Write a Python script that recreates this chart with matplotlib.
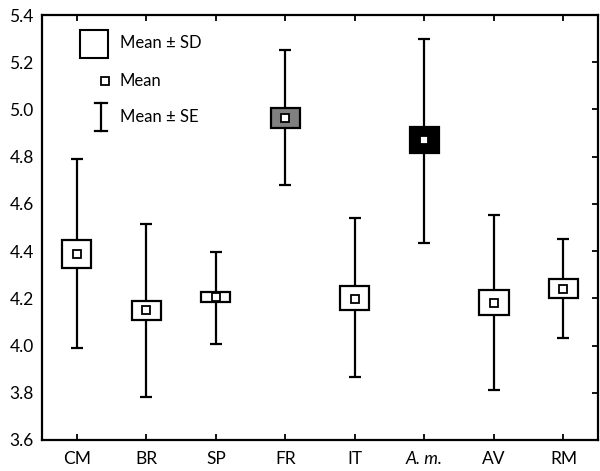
import matplotlib
matplotlib.use("Agg")
import matplotlib.pyplot as plt

plt.rcParams['font.family'] = ['Lato', 'DejaVu Sans']

groups = ['CM', 'BR', 'SP', 'FR', 'IT', 'A. m.', 'AV', 'RM']
means = [4.387, 4.150, 4.205, 4.962, 4.197, 4.870, 4.180, 4.240]
box_lo = [4.330, 4.110, 4.185, 4.920, 4.150, 4.815, 4.130, 4.200]
box_hi = [4.445, 4.190, 4.225, 5.005, 4.250, 4.925, 4.235, 4.280]
wh_lo = [3.990, 3.780, 4.005, 4.680, 3.865, 4.435, 3.810, 4.030]
wh_hi = [4.790, 4.515, 4.395, 5.250, 4.540, 5.300, 4.555, 4.450]
fills = ['white', 'white', 'white', '#808080', 'white', 'black', 'white', 'white']

fig = plt.figure(figsize=(6, 4.71), dpi=100)
ax = fig.add_axes([0.07, 0.066, 0.927, 0.902])

x = list(range(len(groups)))
yerr = [[m - l for m, l in zip(means, wh_lo)], [h - m for m, h in zip(means, wh_hi)]]
ax.errorbar(x, means, yerr=yerr, fmt='none', ecolor='black', elinewidth=1.6,
            capsize=4.2, capthick=1.6, zorder=1)
ax.bar(x, [h - l for l, h in zip(box_lo, box_hi)], bottom=box_lo, width=0.42,
       color=fills, edgecolor='black', linewidth=1.6, zorder=2)
ax.plot(x, means, 's', ms=5.5, mfc='white', mec='black', mew=1.3, zorder=3)

ax.set_xlim(-0.5, 7.5)
ax.set_ylim(3.6, 5.4)
ax.set_yticks([3.6, 3.8, 4.0, 4.2, 4.4, 4.6, 4.8, 5.0, 5.2, 5.4])
ax.set_yticklabels(['3.6', '3.8', '4.0', '4.2', '4.4', '4.6', '4.8', '5.0', '5.2', '5.4'])
ax.set_xticks(x)
ax.set_xticklabels(groups)
ax.get_xticklabels()[5].set_style('italic')
ax.tick_params(direction='in', length=4, width=1.3, labelsize=12.5,
               top=True, right=True, left=False, pad=8)
ax.tick_params(axis='y', pad=6)
for s in ax.spines.values():
    s.set_linewidth(1.6)

# legend drawn by hand
ax.plot([0.0935], [0.932], 's', ms=20, mfc='white', mec='black', mew=1.5,
        transform=ax.transAxes, clip_on=False)
ax.plot([0.113], [0.845], 's', ms=5.5, mfc='white', mec='black', mew=1.3,
        transform=ax.transAxes)
ax.plot([0.106, 0.106], [0.727, 0.793], color='black', lw=1.6, transform=ax.transAxes)
ax.plot([0.096, 0.116], [0.793, 0.793], color='black', lw=1.6, transform=ax.transAxes)
ax.plot([0.096, 0.116], [0.727, 0.727], color='black', lw=1.6, transform=ax.transAxes)
ax.text(0.140, 0.934, 'Mean ± SD', transform=ax.transAxes, va='center', fontsize=12)
ax.text(0.140, 0.845, 'Mean', transform=ax.transAxes, va='center', fontsize=12)
ax.text(0.140, 0.760, 'Mean ± SE', transform=ax.transAxes, va='center', fontsize=12)

fig.savefig('out.png', dpi=100)
